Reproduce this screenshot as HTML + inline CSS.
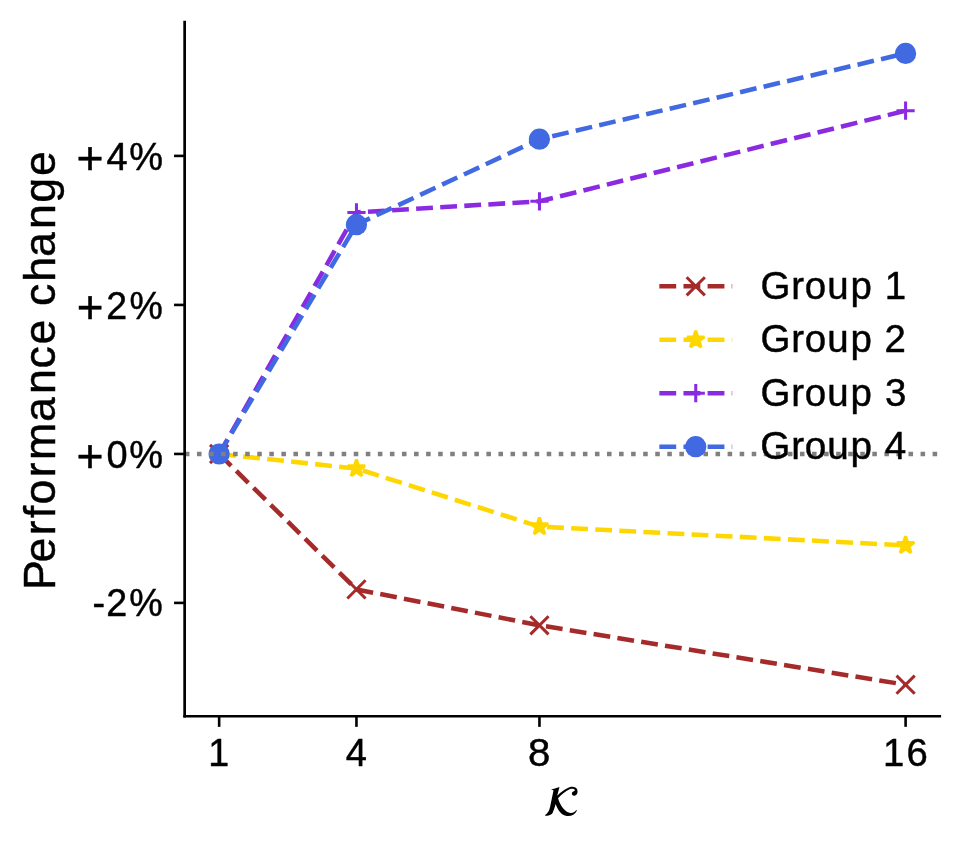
<!DOCTYPE html>
<html><head><meta charset="utf-8"><title>chart</title>
<style>
html,body{margin:0;padding:0;background:#fff;}
svg{display:block;}
text{font-family:"Liberation Sans",sans-serif;fill:#000;filter:grayscale(1);stroke:#000;stroke-width:0.45px;}
</style></head><body>
<svg width="962" height="848" viewBox="0 0 962 848">
<rect width="962" height="848" fill="#fff"/>

<polyline points="219.15,454.00 356.45,589.40 539.45,625.30 905.60,684.70" fill="none" stroke="#a52a2a" stroke-width="4.55" stroke-dasharray="16.84 7.28" stroke-linejoin="round"/>
<path d="M210.05,444.90L228.25,463.10M210.05,463.10L228.25,444.90" stroke="#a52a2a" stroke-width="3.04" fill="none"/>
<path d="M347.35,580.30L365.55,598.50M347.35,598.50L365.55,580.30" stroke="#a52a2a" stroke-width="3.04" fill="none"/>
<path d="M530.35,616.20L548.55,634.40M530.35,634.40L548.55,616.20" stroke="#a52a2a" stroke-width="3.04" fill="none"/>
<path d="M896.50,675.60L914.70,693.80M896.50,693.80L914.70,675.60" stroke="#a52a2a" stroke-width="3.04" fill="none"/>
<polyline points="219.15,454.00 356.45,468.50 539.45,526.60 905.60,545.40" fill="none" stroke="#ffd700" stroke-width="4.55" stroke-dasharray="16.84 7.28" stroke-linejoin="round"/>
<polygon points="219.15,444.90 221.19,451.19 227.80,451.19 222.46,455.07 224.50,461.36 219.15,457.48 213.80,461.36 215.84,455.07 210.50,451.19 217.11,451.19" fill="#ffd700" stroke="#ffd700" stroke-width="3.04" stroke-linejoin="bevel"/>
<polygon points="356.45,459.40 358.49,465.69 365.10,465.69 359.76,469.57 361.80,475.86 356.45,471.98 351.10,475.86 353.14,469.57 347.80,465.69 354.41,465.69" fill="#ffd700" stroke="#ffd700" stroke-width="3.04" stroke-linejoin="bevel"/>
<polygon points="539.45,517.50 541.49,523.79 548.10,523.79 542.76,527.67 544.80,533.96 539.45,530.08 534.10,533.96 536.14,527.67 530.80,523.79 537.41,523.79" fill="#ffd700" stroke="#ffd700" stroke-width="3.04" stroke-linejoin="bevel"/>
<polygon points="905.60,536.30 907.64,542.59 914.25,542.59 908.91,546.47 910.95,552.76 905.60,548.88 900.25,552.76 902.29,546.47 896.95,542.59 903.56,542.59" fill="#ffd700" stroke="#ffd700" stroke-width="3.04" stroke-linejoin="bevel"/>
<polyline points="219.15,454.00 356.45,212.40 539.45,201.30 905.60,110.70" fill="none" stroke="#8a2be2" stroke-width="4.55" stroke-dasharray="16.84 7.28" stroke-linejoin="round"/>
<path d="M210.05,454.00H228.25M219.15,444.90V463.10" stroke="#8a2be2" stroke-width="3.04" fill="none"/>
<path d="M347.35,212.40H365.55M356.45,203.30V221.50" stroke="#8a2be2" stroke-width="3.04" fill="none"/>
<path d="M530.35,201.30H548.55M539.45,192.20V210.40" stroke="#8a2be2" stroke-width="3.04" fill="none"/>
<path d="M896.50,110.70H914.70M905.60,101.60V119.80" stroke="#8a2be2" stroke-width="3.04" fill="none"/>
<polyline points="219.15,454.00 356.45,224.65 539.45,139.20 905.60,53.40" fill="none" stroke="#4169e1" stroke-width="4.55" stroke-dasharray="16.84 7.28" stroke-linejoin="round"/>
<circle cx="219.15" cy="454.00" r="10.6" fill="#4169e1"/>
<circle cx="356.45" cy="224.65" r="10.6" fill="#4169e1"/>
<circle cx="539.45" cy="139.20" r="10.6" fill="#4169e1"/>
<circle cx="905.60" cy="53.40" r="10.6" fill="#4169e1"/>
<line x1="184.9" y1="454.05" x2="939.8" y2="454.05" stroke="#808080" stroke-width="4.55" stroke-dasharray="4.55 7.51"/>
<path d="M184.65,717.6V20.7" stroke="#000" stroke-width="2.7" fill="none"/>
<path d="M183.3,716.25H941.1" stroke="#000" stroke-width="2.7" fill="none"/>
<line x1="219.15" y1="716.25" x2="219.15" y2="726.85" stroke="#000" stroke-width="2.6"/>
<line x1="356.45" y1="716.25" x2="356.45" y2="726.85" stroke="#000" stroke-width="2.6"/>
<line x1="539.45" y1="716.25" x2="539.45" y2="726.85" stroke="#000" stroke-width="2.6"/>
<line x1="905.6" y1="716.25" x2="905.6" y2="726.85" stroke="#000" stroke-width="2.6"/>
<line x1="174.05" y1="155.9" x2="184.65" y2="155.9" stroke="#000" stroke-width="2.6"/>
<line x1="174.05" y1="304.93" x2="184.65" y2="304.93" stroke="#000" stroke-width="2.6"/>
<line x1="174.05" y1="453.95" x2="184.65" y2="453.95" stroke="#000" stroke-width="2.6"/>
<line x1="174.05" y1="602.9" x2="184.65" y2="602.9" stroke="#000" stroke-width="2.6"/>
<text transform="scale(0.9999,1)" font-size="38.0"><tspan x="76.55" y="173.80" font-size="46.36">+</tspan><tspan x="106.49 129.24" y="169.70">4%</tspan></text>
<text transform="scale(0.9861,1)" font-size="38.0"><tspan x="77.81" y="322.83" font-size="46.36">+</tspan><tspan x="107.65 131.28" y="318.73">2%</tspan></text>
<text transform="scale(0.9995,1)" font-size="38.0"><tspan x="76.58" y="471.85" font-size="46.36">+</tspan><tspan x="106.54 129.29" y="467.75">0%</tspan></text>
<text transform="scale(0.9929,1)" x="93.29 106.92 130.30" y="616.20" font-size="38.0">-2%</text>
<text transform="scale(0.9888,1)" x="210.70" y="765.80" font-size="38.0">1</text>
<text transform="scale(1.0027,1)" x="344.90" y="765.80" font-size="38.0">4</text>
<text transform="scale(1.0571,1)" x="499.51" y="765.80" font-size="38.0">8</text>
<text transform="scale(1.0080,1)" x="876.06 899.27" y="765.80" font-size="38.0">16</text>
<text transform="translate(54.5,584.9) rotate(-90) scale(0.9968,1)" x="-5.24 22.39 49.82 66.93 80.55 107.97 125.38 163.42 191.48 217.17 241.14 266.53 279.89 304.20 328.93 356.99 383.47 410.24" y="0.00" font-size="44.8">Performance change</text>
<g transform="translate(537,778) scale(0.05423)"><path d="M265,212 C320,200 370,185 415,168 L372,328 C440,260 520,195 600,170 C660,152 720,160 742,215 C760,265 735,320 690,328 C655,332 635,300 645,272 C655,250 685,245 700,225 C690,195 650,190 610,203 C530,235 450,310 388,372 C420,480 480,580 570,632 C630,660 690,640 725,590 L737,597 C700,670 630,710 550,700 C450,685 380,590 345,478 C330,530 315,580 300,615 C285,672 250,696 152,698 L149,680 C195,660 222,610 240,540 L305,225 C290,220 275,218 265,216 Z" fill="#000"/></g>
<line x1="659.35" y1="286.3" x2="732.2" y2="286.3" stroke="#a52a2a" stroke-width="4.55" stroke-dasharray="16.84 7.28"/>
<path d="M686.65,277.20L704.85,295.40M686.65,295.40L704.85,277.20" stroke="#a52a2a" stroke-width="3.04" fill="none"/>
<text transform="scale(1.0110,1)" x="752.17 782.57 796.00 818.25 841.30 863.03 875.06" y="298.70" font-size="38.0">Group 1</text>
<line x1="659.35" y1="339.75" x2="732.2" y2="339.75" stroke="#ffd700" stroke-width="4.55" stroke-dasharray="16.84 7.28"/>
<polygon points="695.75,330.65 697.79,336.94 704.40,336.94 699.06,340.82 701.10,347.11 695.75,343.23 690.40,347.11 692.44,340.82 687.10,336.94 693.71,336.94" fill="#ffd700" stroke="#ffd700" stroke-width="3.04" stroke-linejoin="bevel"/>
<text transform="scale(1.0121,1)" x="751.38 781.76 795.17 817.40 840.42 862.14 873.88" y="352.15" font-size="38.0">Group 2</text>
<line x1="659.35" y1="393.2" x2="732.2" y2="393.2" stroke="#8a2be2" stroke-width="4.55" stroke-dasharray="16.84 7.28"/>
<path d="M686.65,393.20H704.85M695.75,384.10V402.30" stroke="#8a2be2" stroke-width="3.04" fill="none"/>
<text transform="scale(1.0112,1)" x="752.07 782.47 795.90 818.15 841.19 862.91 875.20" y="405.60" font-size="38.0">Group 3</text>
<line x1="659.35" y1="446.65" x2="732.2" y2="446.65" stroke="#4169e1" stroke-width="4.55" stroke-dasharray="16.84 7.28"/>
<circle cx="695.75" cy="446.65" r="10.6" fill="#4169e1"/>
<text transform="scale(1.0180,1)" x="746.93 777.17 790.49 812.59 835.47 857.13 869.20" y="459.05" font-size="38.0">Group 4</text>
</svg>
</body></html>
